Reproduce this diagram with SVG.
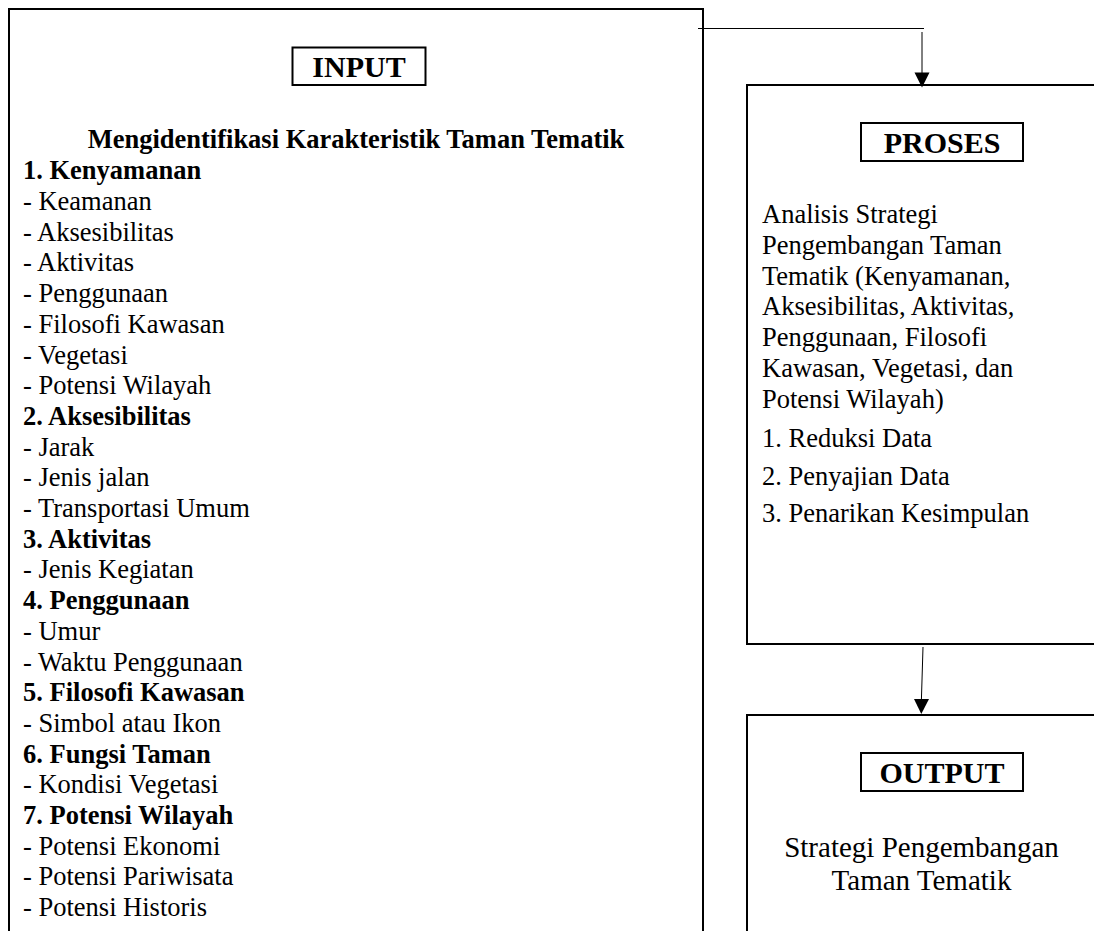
<svg xmlns="http://www.w3.org/2000/svg" width="1094" height="931" viewBox="0 0 1094 931">
<style>
.box{fill:none;stroke:#000;stroke-width:2}
.lbl{fill:none;stroke:#000;stroke-width:2}
.t{font-family:"Liberation Serif","Times New Roman",serif;font-size:26.5px;fill:#000}
.b{font-weight:bold}
.h{font-family:"Liberation Serif","Times New Roman",serif;font-size:30px;font-weight:bold;fill:#000;text-anchor:middle}
.c{stroke:#000;stroke-width:1;fill:none}
</style>
<rect x="0" y="0" width="1094" height="931" fill="#fff"/>
<g id="input">
<rect class="box" x="9" y="9" width="694" height="940"/>
<rect class="lbl" x="292.5" y="47.5" width="133" height="37.5"/>
<text class="h" x="359" y="76.5">INPUT</text>
<text class="t b" x="356" y="148" text-anchor="middle">Mengidentifikasi Karakteristik Taman Tematik</text>
<text class="t b" x="23" y="179.3">1. Kenyamanan</text>
<text class="t" x="23" y="210">- Keamanan</text>
<text class="t" x="23" y="240.7">- Aksesibilitas</text>
<text class="t" x="23" y="271.4">- Aktivitas</text>
<text class="t" x="23" y="302.1">- Penggunaan</text>
<text class="t" x="23" y="332.8">- Filosofi Kawasan</text>
<text class="t" x="23" y="363.5">- Vegetasi</text>
<text class="t" x="23" y="394.2">- Potensi Wilayah</text>
<text class="t b" x="23" y="424.9">2. Aksesibilitas</text>
<text class="t" x="23" y="455.6">- Jarak</text>
<text class="t" x="23" y="486.3">- Jenis jalan</text>
<text class="t" x="23" y="517">- Transportasi Umum</text>
<text class="t b" x="23" y="547.7">3. Aktivitas</text>
<text class="t" x="23" y="578.4">- Jenis Kegiatan</text>
<text class="t b" x="23" y="609.1">4. Penggunaan</text>
<text class="t" x="23" y="639.8">- Umur</text>
<text class="t" x="23" y="670.5">- Waktu Penggunaan</text>
<text class="t b" x="23" y="701.2">5. Filosofi Kawasan</text>
<text class="t" x="23" y="731.9">- Simbol atau Ikon</text>
<text class="t b" x="23" y="762.6">6. Fungsi Taman</text>
<text class="t" x="23" y="793.3">- Kondisi Vegetasi</text>
<text class="t b" x="23" y="824">7. Potensi Wilayah</text>
<text class="t" x="23" y="854.7">- Potensi Ekonomi</text>
<text class="t" x="23" y="885.4">- Potensi Pariwisata</text>
<text class="t" x="23" y="916.1">- Potensi Historis</text>
</g>
<g id="proses">
<rect class="box" x="747" y="85" width="400" height="559"/>
<rect class="lbl" x="861" y="123" width="162" height="38"/>
<text class="h" x="942" y="153">PROSES</text>
<text class="t" x="762" y="223">Analisis Strategi</text>
<text class="t" x="762" y="253.8">Pengembangan Taman</text>
<text class="t" x="762" y="284.6">Tematik (Kenyamanan,</text>
<text class="t" x="762" y="315.4">Aksesibilitas, Aktivitas,</text>
<text class="t" x="762" y="346.2">Penggunaan, Filosofi</text>
<text class="t" x="762" y="377">Kawasan, Vegetasi, dan</text>
<text class="t" x="762" y="407.8">Potensi Wilayah)</text>
<text class="t" x="762" y="447">1. Reduksi Data</text>
<text class="t" x="762" y="485">2. Penyajian Data</text>
<text class="t" x="762" y="522">3. Penarikan Kesimpulan</text>
</g>
<g id="output">
<rect class="box" x="747" y="715" width="400" height="300"/>
<rect class="lbl" x="861" y="753" width="162" height="38"/>
<text class="h" x="942" y="783">OUTPUT</text>
<text class="t" x="921.5" y="857" text-anchor="middle" style="font-size:29px">Strategi Pengembangan</text>
<text class="t" x="921.5" y="890" text-anchor="middle" style="font-size:29px">Taman Tematik</text>
</g>
<g id="connectors">
<line class="c" x1="698" y1="28.5" x2="924" y2="28.5"/>
<line class="c" x1="922" y1="32" x2="922" y2="73"/>
<polygon points="914.5,72.5 929.5,72.5 922,87.5" fill="#000"/>
<line class="c" x1="923" y1="647" x2="921.4" y2="700"/>
<polygon points="914,699 929,699 921.3,714" fill="#000"/>
</g>
</svg>
